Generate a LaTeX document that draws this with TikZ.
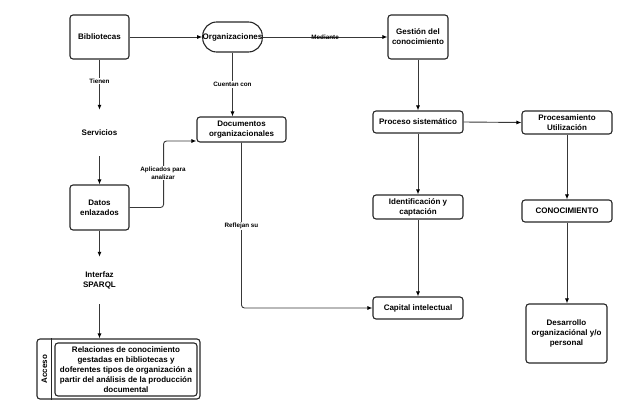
\documentclass[tikz,border=0pt]{standalone}
\usepackage{fontspec}
\setmainfont{Liberation Sans}
\usetikzlibrary{arrows.meta,calc}
\begin{document}
\begin{tikzpicture}[x=1pt,y=-1pt,
  box/.style={draw=black!85,line width=1.1pt,rounded corners=3pt,inner sep=1pt,align=center,
    font=\fontsize{8}{10}\selectfont\bfseries},
  plain/.style={inner sep=0pt,align=center,font=\fontsize{8}{10}\selectfont\bfseries},
  conn/.style={draw=black!78,line width=0.9pt,-{Latex[length=5pt,width=4pt,black]}},
  lbl/.style={inner sep=1pt,align=center,font=\fontsize{6.3}{7.5}\selectfont\bfseries},
  lblw/.style={lbl,fill=white}]
\useasboundingbox (0,0) rectangle (626,414);

\node[box,minimum width=59pt,minimum height=44pt] (bib) at (99.5,37) {Bibliotecas};
\node[box,rounded corners=14pt,inner sep=0pt,minimum width=59pt,minimum height=30pt] (org) at (232.5,37) {Organizaciones};
\node[plain,minimum height=46pt] (serv) at (99.5,133) {Servicios};
\node[box,minimum width=59pt,minimum height=45pt] (datos) at (99.5,207.5) {Datos\\enlazados};
\node[plain,minimum height=47pt] (sparql) at (99.5,280.5) {Interfaz\\SPARQL};
\node[box,minimum width=163pt,minimum height=60pt] (acc) at (118.5,369) {};
\node[box,minimum width=142pt,minimum height=53pt] (rel) at (126,369.5)
  {Relaciones de conocimiento\\gestadas en bibliotecas y\\doferentes tipos de organizaci\'on a\\partir del an\'alisis de la producci\'on\\documental};
\node[plain,rotate=90] (acct) at (44.5,369) {Acceso};
\draw[draw=black!85,line width=1.1pt] ($(acc.north west)+(15,0)$) coordinate (sepT) -- ($(acc.south west)+(15,0)$) coordinate (sepB);

\node[box,minimum width=89pt,minimum height=25pt] (doc) at (241.5,129.5) {Documentos\\organizacionales};
\node[box,minimum width=60pt,minimum height=44pt] (gest) at (418,37) {Gesti\'on del\\conocimiento};
\node[box,minimum width=90pt,minimum height=22pt] (proc) at (418,122) {Proceso sistem\'atico};
\node[box,minimum width=90pt,minimum height=23pt] (procu) at (567,122.5) {Procesamiento\\Utilizaci\'on};
\node[box,minimum width=90pt,minimum height=24pt] (ident) at (418,207) {Identificaci\'on y\\captaci\'on};
\node[box,minimum width=90pt,minimum height=22pt] (conoc) at (567,211) {CONOCIMIENTO};
\node[box,minimum width=90pt,minimum height=22pt] (cap) at (418,308) {Capital intelectual};
\node[box,minimum width=81pt,minimum height=59pt] (desa) at (566.5,333.5) {Desarrollo\\organizaci\'onal y/o\\personal};

\draw[conn] (bib.east) -- (org.west);
\draw[conn] (org.east) -- node[lbl,pos=0.5] {Mediante} (gest.west);
\draw[conn] (bib.south) -- node[lblw,pos=0.43] {Tienen} (serv.north);
\draw[conn] (serv.south) -- (datos.north);
\draw[conn] (datos.south) -- (sparql.north);
\draw[conn] (sparql.south) -- (sparql.south |- acc.north);
\draw[conn] (org.south) -- node[lblw,pos=0.5] {Cuentan con} (org.south |- doc.north);
\draw[conn,rounded corners=3pt] (datos.east) -- ++(34,0) coordinate (apl) |- ([yshift=-11.5pt]doc.west);
\node[lblw] (apll) at (163,173) {Aplicados para\\analizar};
\draw[conn,rounded corners=3pt] (doc.south) |- (cap.west);
\node[lblw] (refl) at (241.5,226) {Reflejan su};
\draw[conn] (gest.south) -- (proc.north);
\draw[conn] (proc.east) -- (procu.west);
\draw[conn] (proc.south) -- (ident.north);
\draw[conn] (procu.south) -- (procu.south |- conoc.north);
\draw[conn] (ident.south) -- (cap.north);
\draw[conn] (conoc.south) -- (conoc.south |- desa.north);
\end{tikzpicture}
\end{document}
